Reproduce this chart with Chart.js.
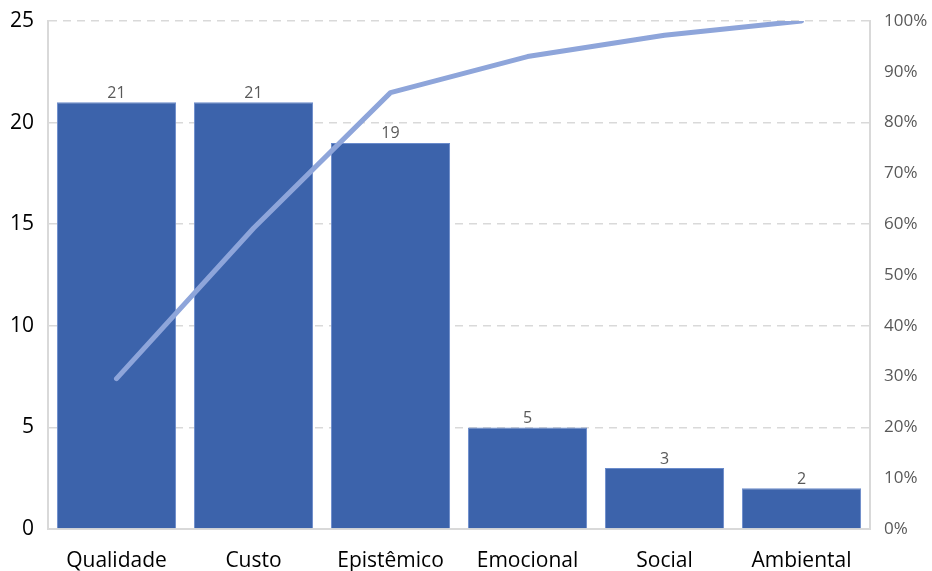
<!DOCTYPE html>
<html>
<head>
<meta charset="utf-8">
<script src="https://cdn.jsdelivr.net/npm/chart.js@4.4.1/dist/chart.umd.min.js"></script>
<style>
  html, body { margin: 0; padding: 0; background: #ffffff; overflow: hidden; }
  #wrap { position: relative; width: 932px; height: 600px; }
</style>
</head>
<body>
<div id="wrap"><canvas id="c" width="932" height="600"></canvas></div>
<script>
// Pareto data: occurrences per value category and cumulative share
const categories = ['Qualidade', 'Custo', 'Epistêmico', 'Emocional', 'Social', 'Ambiental'];
const counts = [21, 21, 19, 5, 3, 2];
const cumulativePct = [29.6, 59.2, 85.9, 93.0, 97.2, 100];
const countTicks = [0, 5, 10, 15, 20, 25];
const pctTicks = [0, 10, 20, 30, 40, 50, 60, 70, 80, 90, 100];

const FONT = "'Open Sans', 'Noto Sans', sans-serif";

// Value labels above each bar
const barLabels = {
  id: 'barLabels',
  afterDatasetsDraw(chart) {
    const ctx = chart.ctx;
    const meta = chart.getDatasetMeta(1);
    ctx.save();
    ctx.fillStyle = '#595959';
    ctx.font = "16px " + FONT;
    ctx.textAlign = 'center';
    ctx.textBaseline = 'bottom';
    meta.data.forEach((bar, i) => {
      ctx.fillText(String(counts[i]), bar.x, bar.y - 1);
    });
    ctx.restore();
  }
};

// vertical axes: fixed width, no extra label padding above/below the plot
function fitVertical(width) {
  return (s) => { s.width = width; s.paddingTop = 0; s.paddingBottom = 0; };
}

new Chart(document.getElementById('c'), {
  data: {
    labels: categories,
    datasets: [
      {
        type: 'line',
        data: cumulativePct,
        yAxisID: 'y1',
        borderColor: '#8EA5DA',
        borderWidth: 5,
        borderCapStyle: 'round',
        borderJoinStyle: 'round',
        pointRadius: 0,
        tension: 0,
        order: 0
      },
      {
        type: 'bar',
        data: counts,
        yAxisID: 'y',
        backgroundColor: '#3C63AB',
        borderColor: '#6A8BCB',
        borderWidth: 1,
        categoryPercentage: 1,
        barPercentage: 0.87,
        order: 1
      }
    ]
  },
  options: {
    responsive: false,
    animation: false,
    layout: { padding: { top: 21, bottom: 0, left: 0, right: 0 } },
    plugins: { legend: { display: false }, tooltip: { enabled: false } },
    scales: {
      x: {
        grid: { display: false, drawTicks: false },
        border: { display: true, color: '#d9d9d9', width: 2 },
        ticks: { color: '#000000', font: { family: FONT, size: 21 }, padding: 19, maxRotation: 0 },
        afterFit(s) { s.height = 71; s.paddingLeft = 0; s.paddingRight = 0; }
      },
      y: {
        position: 'left',
        min: 0, max: 25,
        afterBuildTicks(s) { s.ticks = countTicks.map(v => ({ value: v })); },
        grid: {
          color: (c) => c.tick && c.tick.value === 0 ? 'rgba(0,0,0,0)' : '#d9d9d9',
          lineWidth: 1.5,
          drawTicks: false
        },
        border: { display: true, color: '#d9d9d9', width: 2, dash: [8, 6] },
        ticks: { color: '#000000', font: { family: FONT, size: 21 }, padding: 14 },
        afterFit: fitVertical(48)
      },
      y1: {
        position: 'right',
        min: 0, max: 100,
        afterBuildTicks(s) { s.ticks = pctTicks.map(v => ({ value: v })); },
        grid: { display: false, drawTicks: false },
        border: { display: true, color: '#d9d9d9', width: 2 },
        ticks: { color: '#595959', font: { family: FONT, size: 17 }, padding: 14, callback: (v) => v + '%' },
        afterFit: fitVertical(62)
      }
    }
  },
  plugins: [barLabels]
});
</script>
</body>
</html>
